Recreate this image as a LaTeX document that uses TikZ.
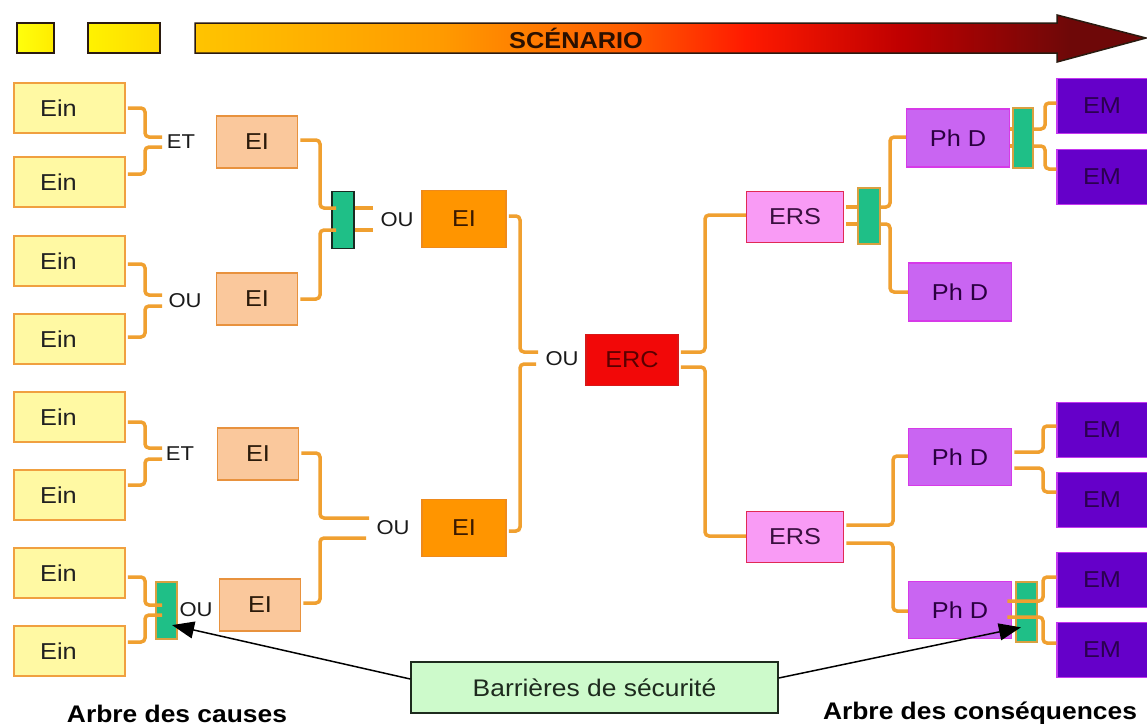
\documentclass[tikz,border=0pt]{standalone}
\usepackage{fontspec}
\setmainfont{Liberation Sans}[FakeStretch=1.1]
\usetikzlibrary{arrows.meta,calc}
\definecolor{einfill}{HTML}{FFF9A3}
\definecolor{einedge}{HTML}{F0A040}
\definecolor{eintext}{HTML}{202020}
\definecolor{eilfill}{HTML}{FAC89C}
\definecolor{eiledge}{HTML}{E8923E}
\definecolor{eiltext}{HTML}{2A1A0A}
\definecolor{eibfill}{HTML}{FF9500}
\definecolor{eibedge}{HTML}{EE8A1C}
\definecolor{eibtext}{HTML}{3A1A00}
\definecolor{ercfill}{HTML}{F20808}
\definecolor{ercedge}{HTML}{D81818}
\definecolor{erctext}{HTML}{5A0000}
\definecolor{ersfill}{HTML}{F99BF5}
\definecolor{ersedge}{HTML}{E02A55}
\definecolor{erstext}{HTML}{3A1040}
\definecolor{phdfill}{HTML}{C965F2}
\definecolor{phdedge}{HTML}{D63AE8}
\definecolor{phdtext}{HTML}{2A0040}
\definecolor{emfill}{HTML}{6500C9}
\definecolor{emedge}{HTML}{C436F0}
\definecolor{emtext}{HTML}{2B004F}
\definecolor{barfill}{HTML}{1FBF87}
\definecolor{baredgeA}{HTML}{1A2A22}
\definecolor{baredgeB}{HTML}{D9A040}
\definecolor{conncol}{HTML}{F0A030}
\definecolor{boxfill}{HTML}{CDFACB}
\definecolor{boxedge}{HTML}{1E2B1E}
\definecolor{gatetext}{HTML}{1A1A1A}
\definecolor{sA}{HTML}{FFC400}
\definecolor{sB}{HTML}{FF9A00}
\definecolor{sC}{HTML}{FF5A00}
\definecolor{sD}{HTML}{FF1A00}
\definecolor{sE}{HTML}{C00000}
\definecolor{sF}{HTML}{6E0808}
\definecolor{arrowedge}{HTML}{2A1A10}
\definecolor{scentext}{HTML}{2A1000}
\pgfdeclarehorizontalshading{scen}{100bp}{color(0bp)=(sA); color(25bp)=(sA); color(38bp)=(sB); color(48bp)=(sC); color(54bp)=(sD); color(62bp)=(sE); color(71bp)=(sF); color(75bp)=(sF); color(100bp)=(sF)}
\begin{document}
\begin{tikzpicture}[x=1pt,y=-1pt,
  conn/.style={draw=conncol, line width=3.5pt, rounded corners=4pt, shorten <=2pt},
  box/.style={draw, line width=1.5pt, inner sep=0pt, font=\fontsize{23}{24}\selectfont},
  ein/.style={box, fill=einfill, draw=einedge, text=eintext, minimum width=111pt, minimum height=50pt},
  eil/.style={box, fill=eilfill, draw=eiledge, text=eiltext, minimum width=81pt, minimum height=52pt},
  eib/.style={box, fill=eibfill, draw=eibedge, text=eibtext, minimum width=84pt, minimum height=57pt},
  erc/.style={box, fill=ercfill, draw=ercedge, text=erctext, minimum width=92pt, minimum height=51pt},
  ers/.style={box, fill=ersfill, draw=ersedge, text=erstext, minimum width=97pt, minimum height=51pt},
  phd/.style={box, fill=phdfill, draw=phdedge, text=phdtext, minimum width=103pt, minimum height=58pt},
  em/.style={box, fill=emfill, draw=emedge, text=emtext, minimum width=96pt, minimum height=55pt},
  barr/.style={draw=baredgeB, line width=1.3pt, fill=barfill, inner sep=0pt, minimum width=21pt, minimum height=57pt},
  gate/.style={font=\fontsize{20}{20}\selectfont, text=gatetext, inner sep=0pt},
  ptr/.style={draw=black, line width=1.5pt, -{Triangle[length=22pt,width=17pt]}},
  sq/.style={draw=arrowedge, line width=2pt, inner sep=0pt, minimum height=30pt},
  title/.style={font=\bfseries\fontsize{24}{24}\selectfont, text=black, inner sep=0pt},
]
\useasboundingbox[fill=white] (0,0) rectangle (1147,726);

% scenario bar
\node[sq, minimum width=37pt, left color=yellow!95!white, right color=yellow!85!orange] (sq1) at (35.5,38) {};
\node[sq, minimum width=72pt, left color=yellow!90!orange, right color=yellow!70!orange] (sq2) at (124,38) {};
\shadedraw[shading=scen, draw=arrowedge, line width=1.5pt, line join=miter]
  (195,23) -- (1057,23) -- (1057,15) -- (1146,38) -- (1057,62) -- (1057,53) -- (195,53) -- cycle;
\node[font=\bfseries\fontsize{23}{23}\selectfont, text=scentext, inner sep=0pt] (scen) at (576,38) {SCÉNARIO};

% cause tree
\node[ein] (ein1) at (69.5,108) {Ein\hspace*{22pt}};
\node[ein] (ein2) at (69.5,182) {Ein\hspace*{22pt}};
\node[ein] (ein3) at (69.5,261) {Ein\hspace*{22pt}};
\node[ein] (ein4) at (69.5,339) {Ein\hspace*{22pt}};
\node[ein] (ein5) at (69.5,417) {Ein\hspace*{22pt}};
\node[ein] (ein6) at (69.5,495) {Ein\hspace*{22pt}};
\node[ein] (ein7) at (69.5,573) {Ein\hspace*{22pt}};
\node[ein] (ein8) at (69.5,651) {Ein\hspace*{22pt}};

\node[eil] (ei1) at (257,142) {EI};
\node[eil] (ei2) at (257,299) {EI};
\node[eil] (ei3) at (258,454) {EI};
\node[eil] (ei4) at (260,605) {EI};

\node[eib] (eb1) at (464,219) {EI};
\node[eib] (eb2) at (464,528) {EI};

\node[erc] (erc) at (632,360) {ERC};

% consequence tree
\node[ers] (ers1) at (795,217) {ERS};
\node[ers] (ers2) at (795,537) {ERS};
\node[phd] (phd1) at (958,138) {Ph D};
\node[phd] (phd2) at (960,292) {Ph D};
\node[phd, minimum height=57pt] (phd3) at (960,457) {Ph D};
\node[phd, minimum height=57pt] (phd4) at (960,610) {Ph D};
\node[em] (em1) at (1105,106) {EM\hspace*{6pt}};
\node[em] (em2) at (1105,177) {EM\hspace*{6pt}};
\node[em] (em3) at (1105,430) {EM\hspace*{6pt}};
\node[em] (em4) at (1105,500) {EM\hspace*{6pt}};
\node[em] (em5) at (1105,580) {EM\hspace*{6pt}};
\node[em] (em6) at (1105,650) {EM\hspace*{6pt}};

% safety barriers
\node[barr, draw=baredgeA, minimum width=22pt] (b1) at (343,220) {};
\node[barr] (b2) at (166.5,610.5) {};
\node[barr, minimum width=22pt, minimum height=56pt] (b3) at (869,216) {};
\node[barr, minimum width=20pt, minimum height=60pt] (b4) at (1023,138) {};
\node[barr, minimum height=60pt] (b5) at (1026.5,612) {};

% gate labels
\node[gate] (g1) at (181,142) {ET};
\node[gate] (g2) at (185,301) {OU};
\node[gate] (g3) at (180,454) {ET};
\node[gate] (g4) at (196,610) {OU};
\node[gate] (g5) at (397,220) {OU};
\node[gate] (g6) at (393,528) {OU};
\node[gate] (g7) at (562,359) {OU};

\coordinate (p1a) at (162,137); \coordinate (p1b) at (162,147);
\coordinate (p2a) at (162,295); \coordinate (p2b) at (162,306);
\coordinate (p3a) at (162,448); \coordinate (p3b) at (162,459);
\coordinate (p4a) at (162,605); \coordinate (p4b) at (162,615);
\coordinate (p5a) at (336,208); \coordinate (p5b) at (336,230);
\coordinate (q5a) at (373,208); \coordinate (q5b) at (373,230);
\coordinate (p6a) at (369,518); \coordinate (p6b) at (366,538);
\coordinate (p7a) at (538,352); \coordinate (p7b) at (536,364);

% connectors
\draw[conn] (ein1.east |- 0,108) -| (145,137) -- (p1a);
\draw[conn] (ein2.east |- 0,174) -| (145,147) -- (p1b);
\draw[conn] (ein3.east |- 0,264) -| (145,295) -- (p2a);
\draw[conn] (ein4.east |- 0,337) -| (145,306) -- (p2b);
\draw[conn] (ein5.east |- 0,422) -| (145,448) -- (p3a);
\draw[conn] (ein6.east |- 0,485) -| (145,459) -- (p3b);
\draw[conn] (ein7.east |- 0,577) -| (145,605) -- (p4a);
\draw[conn] (ein8.east |- 0,642) -| (145,615) -- (p4b);

\draw[conn] (ei1.east |- 0,140) -| (320,208) -- (p5a);
\draw[conn] (ei2.east |- 0,299) -| (320,230) -- (p5b);
\draw[conn, shorten <=0pt] (b1.east |- 0,208) -- (q5a);
\draw[conn, shorten <=0pt] (b1.east |- 0,230) -- (q5b);

\draw[conn] (ei3.east |- 0,453) -| (320,518) -- (p6a);
\draw[conn] (ei4.east |- 0,603) -| (320,538) -- (p6b);

\draw[conn] (eb1.east |- 0,216) -| (520,352) -- (p7a);
\draw[conn] (eb2.east |- 0,531) -| (520,364) -- (p7b);

\draw[conn] (erc.east |- 0,352) -| (705,215) -- (ers1.west |- 0,215);
\draw[conn] (erc.east |- 0,367) -| (705,536) -- (ers2.west |- 0,536);

\draw[conn] (ers1.east |- 0,207) -- (b3.west |- 0,207);
\draw[conn] (ers1.east |- 0,224) -- (b3.west |- 0,224);
\draw[conn, shorten <=0pt] (b3.east |- 0,207) -| (890,137) -- (phd1.west |- 0,137);
\draw[conn, shorten <=0pt] (b3.east |- 0,224) -| (890,292) -- (phd2.west |- 0,292);

\draw[conn, shorten <=0pt] (phd1.east |- 0,129) -- (b4.west |- 0,129);
\draw[conn, shorten <=0pt] (phd1.east |- 0,146) -- (b4.west |- 0,146);
\draw[conn, shorten <=0pt] (b4.east |- 0,129) -| (1045,103) -- (em1.west |- 0,103);
\draw[conn, shorten <=0pt] (b4.east |- 0,146) -| (1045,169) -- (em2.west |- 0,169);

\draw[conn] (ers2.east |- 0,525) -| (893,456) -- (phd3.west |- 0,456);
\draw[conn] (ers2.east |- 0,543) -| (893,611) -- (phd4.west |- 0,611);
\draw[conn] (phd3.east |- 0,452) -| (1043,426) -- (em3.west |- 0,426);
\draw[conn] (phd3.east |- 0,468) -| (1043,492) -- (em4.west |- 0,492);
\draw[conn, shorten <=-5pt] (phd4.east |- 0,601) -| (1043,577) -- (em5.west |- 0,577);
\draw[conn, shorten <=-5pt] (phd4.east |- 0,617) -| (1043,643) -- (em6.west |- 0,643);

% barrier call-out
\node[draw=boxedge, line width=1.5pt, fill=boxfill, minimum width=367pt, minimum height=51pt, inner sep=0pt, font=\fontsize{24}{24}\selectfont, text=boxedge] (bar) at (594.5,687.5) {Barrières de sécurité};
\draw[ptr] (bar.west |- 0,679) -- ($(b2.center)!0.5!(b2.south east)$);
\draw[ptr] (bar.east |- 0,678) -- ($(b5.center)!0.5!(b5.south west)$);

\node[title] (lc) at (177,714) {Arbre des causes};
\node[title] (lq) at (980,713) {Arbre des conséquences};
\end{tikzpicture}
\end{document}
